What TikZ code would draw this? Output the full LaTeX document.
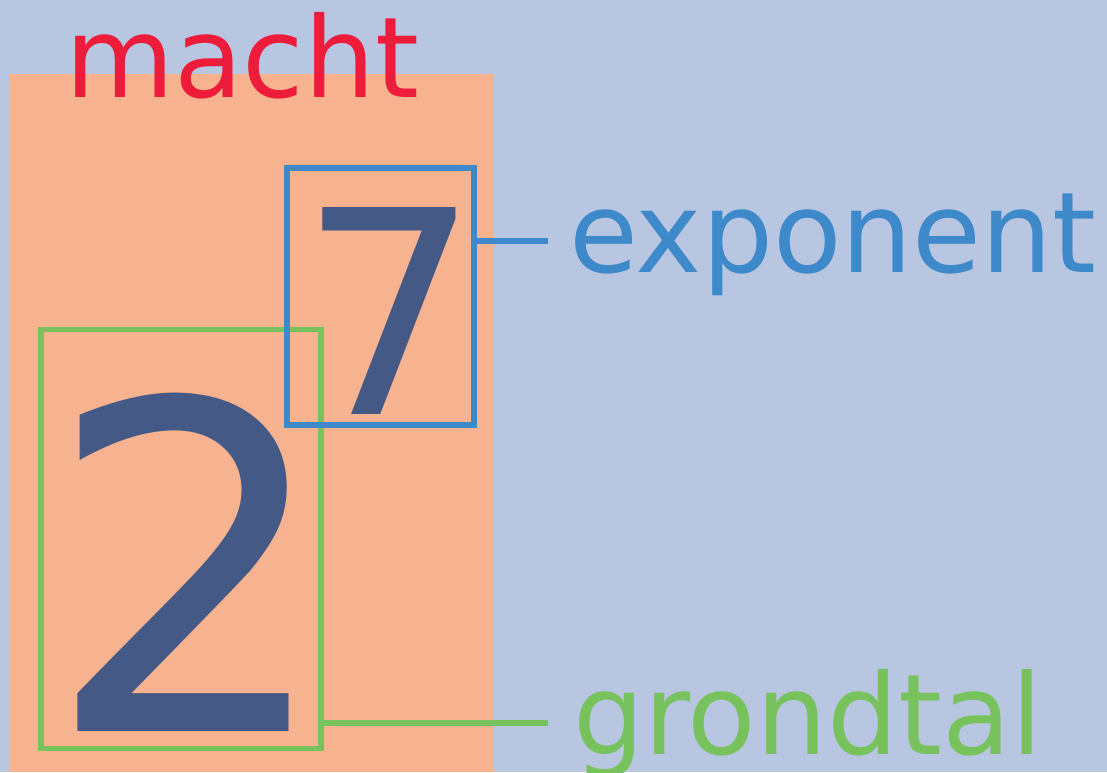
\documentclass[tikz,border=0pt]{standalone}
\usepackage{fontspec}
\setmainfont{DejaVu Sans}
\definecolor{bgc}{RGB}{184,198,226}
\definecolor{orc}{RGB}{247,178,143}
\definecolor{redc}{RGB}{237,28,58}
\definecolor{bluec}{RGB}{61,137,201}
\definecolor{numc}{RGB}{69,89,135}
\definecolor{greenc}{RGB}{120,194,94}
\begin{document}
\begin{tikzpicture}[x=1pt,y=-1pt,
  lbl/.style={inner sep=0pt, outer sep=0pt, anchor=base west, font=\fontsize{112}{112}\selectfont},
  digit/.style={inner sep=0pt, outer sep=0pt, anchor=base west, text=numc},
  frame/.style={draw, line width=5.5pt, inner sep=0pt, outer sep=0pt},
  conn/.style={line width=5.5pt}]
\fill[bgc] (0,0) rectangle (1107,772);
\useasboundingbox (0,0) rectangle (1107,772);
\fill[orc] (9,73.7) rectangle (493.7,772);
\node[lbl, text=redc] (macht) at (65,97.7) {macht};
\node[frame, draw=greenc, minimum width=280.2pt, minimum height=419.2pt] (gbox) at (180.9,539.1) {};
\node[frame, draw=bluec, minimum width=186.8pt, minimum height=257.4pt] (bbox) at (380.6,296.5) {};
\node[digit, font=\fontsize{456}{456}\selectfont] (two) at (44,731.7) {2};
\node[digit, font=\fontsize{284}{284}\selectfont] (seven) at (299,414.3) {7};
\coordinate (ec) at (548,241);
\coordinate (gc) at (548,722.8);
\draw[conn, bluec] (bbox.east |- ec) -- (ec);
\draw[conn, greenc] (gbox.east |- gc) -- (gc);
\node[lbl, text=bluec] (expo) at (569,272.3) {exponent};
\node[lbl, text=greenc] (grond) at (573,754.3) {grondtal};
\end{tikzpicture}
\end{document}
